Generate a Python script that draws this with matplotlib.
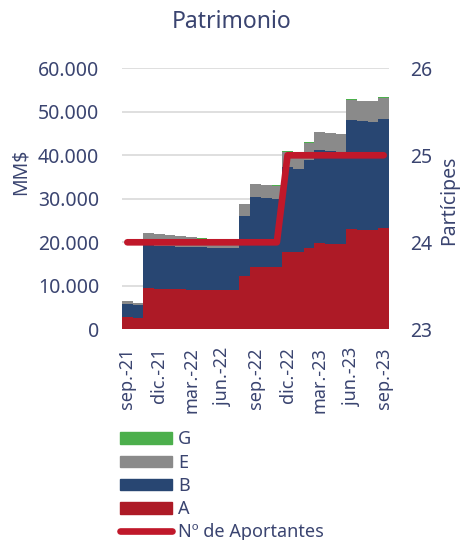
import matplotlib
matplotlib.use("Agg")
import matplotlib.pyplot as plt
import numpy as np
from matplotlib.patches import Patch
from matplotlib.lines import Line2D

# monthly data, sep-21 .. sep-23 (MM$)
months = ['sep.-21', 'oct.-21', 'nov.-21', 'dic.-21', 'ene.-22', 'feb.-22', 'mar.-22',
          'abr.-22', 'may.-22', 'jun.-22', 'jul.-22', 'ago.-22', 'sep.-22', 'oct.-22',
          'nov.-22', 'dic.-22', 'ene.-23', 'feb.-23', 'mar.-23', 'abr.-23', 'may.-23',
          'jun.-23', 'jul.-23', 'ago.-23', 'sep.-23']
serie_a = [2760, 2530, 9420, 9350, 9300, 9200, 9100, 9040, 8960, 8960, 9040, 12250, 14390,
           14390, 14390, 17700, 17700, 18620, 19770, 19690, 19620, 22990, 22910, 22910, 23220]
serie_b = [3060, 3060, 9880, 9850, 9800, 9800, 9800, 9810, 9660, 9660, 9580, 13800, 16110,
           15880, 15650, 19540, 19080, 20300, 21450, 21230, 21140, 25120, 24900, 24750, 25040]
serie_e = [620, 530, 2770, 2630, 2580, 2450, 2240, 1990, 2060, 2140, 2060, 2650, 2910,
           2910, 2990, 3530, 3720, 3980, 4060, 4140, 4070, 4600, 4590, 4740, 4840]
serie_g = [40, 40, 50, 50, 50, 50, 50, 50, 50, 50, 50, 80, 100,
           100, 100, 120, 120, 150, 150, 150, 150, 150, 150, 160, 280]
aportantes = [24, 24, 24, 24, 24, 24, 24, 24, 24, 24, 24, 24, 24, 24, 24,
              25, 25, 25, 25, 25, 25, 25, 25, 25, 25]

txt = '#3A4470'
c_a = '#AD1A26'
c_b = '#284672'
c_e = '#8A8A8A'
c_g = '#4CAF4C'
c_line = '#C0182A'

plt.rcParams['font.family'] = ['Noto Sans', 'DejaVu Sans']

fig = plt.figure(figsize=(4.61, 5.40), dpi=100)
ax = fig.add_axes([122/461, 1-329.3/540, 267/461, 261/540])
x = np.arange(len(months))

ax.set_axisbelow(True)
ax.grid(axis='y', color='#D6D6D6', linewidth=1.1)
bottom = np.zeros(len(months))
for vals, col in [(serie_a, c_a), (serie_b, c_b), (serie_e, c_e), (serie_g, c_g)]:
    ax.bar(x, vals, width=1.0, bottom=bottom, color=col, linewidth=0)
    bottom += np.array(vals)

ax.set_xlim(-0.5, len(months) - 0.5)
ax.set_ylim(0, 60000)
ax.set_yticks(np.arange(0, 60001, 10000))
ax.set_yticklabels(['0' if v == 0 else '{:,}'.format(v).replace(',', '.') for v in range(0, 60001, 10000)])
ax.set_xticks(x[::3])
ax.set_xticklabels(months[::3], rotation=90)
ax.tick_params(axis='y', length=0, pad=16.5, labelsize=14, labelcolor=txt)
ax.tick_params(axis='x', length=0, pad=13, labelsize=13, labelcolor=txt)
for s in ax.spines.values():
    s.set_visible(False)

ax2 = ax.twinx()
ax2.plot(x, aportantes, color=c_line, linewidth=4.8, solid_capstyle='round', solid_joinstyle='round')
ax2.set_ylim(23, 26)
ax2.set_yticks([23, 24, 25, 26])
ax2.tick_params(axis='y', length=0, pad=15.5, labelsize=14, labelcolor=txt)
for s in ax2.spines.values():
    s.set_visible(False)

# axis titles
fig.text(21/461, 1-172/540, 'MM$', rotation=90, ha='center', va='center', fontsize=14, color=txt)
fig.text(449/461, 1-200/540, 'Partícipes', rotation=90, ha='center', va='center', fontsize=14, color=txt)
fig.text(232/461, 1-22/540, 'Patrimonio', ha='center', va='center', fontsize=16.5, color=txt)

handles = [Patch(color=c_g), Patch(color=c_e), Patch(color=c_b), Patch(color=c_a),
           Line2D([0], [0], color=c_line, linewidth=4.8, solid_capstyle='round')]
labels = ['G', 'E', 'B', 'A', 'Nº de Aportantes']
fig.legend(handles, labels, loc='upper left', bbox_to_anchor=(120/461, 1-430.5/540),
           frameon=False, fontsize=13, labelcolor=txt, handlelength=2.9, handleheight=0.6,
           handletextpad=0.33, labelspacing=0.29, borderpad=0, borderaxespad=0)

fig.savefig('out.png', dpi=100)
